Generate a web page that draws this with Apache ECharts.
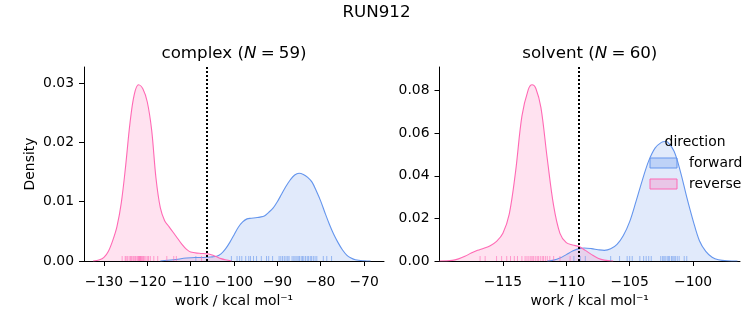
<!DOCTYPE html>
<html><head><meta charset="utf-8">
<script src="https://cdn.jsdelivr.net/npm/echarts@6/dist/echarts.min.js"></script>
<style>html,body{margin:0;padding:0;background:#fff}#c{width:753px;height:325px}</style>
</head><body><div id="c"></div>
<script>
// ---- data ----
const complexForwardKde = [[-117,0],[-114,0.0002],[-111,0.0005],[-109,0.0006],[-107,0.0006],[-105,0.0007],[-104,0.0008],[-103,0.0012],[-102,0.0020],[-101,0.0031],[-100,0.0044],[-99,0.0057],[-98,0.0066],[-97,0.0071],[-96,0.0072],[-95,0.0073],[-94,0.0074],[-93,0.0076],[-92,0.0082],[-91,0.0089],[-90,0.0100],[-89,0.0113],[-88,0.0126],[-87,0.0137],[-86,0.0145],[-85,0.0148],[-84,0.0146],[-83,0.0141],[-82,0.0133],[-81,0.0118],[-80,0.0101],[-79,0.0081],[-78,0.0062],[-77,0.0045],[-76,0.0031],[-75,0.0019],[-74,0.0010],[-73,0.0005],[-72,0.0002],[-70,0.00003],[-68.5,0]];
const complexReverseKde = [[-132.5,0],[-131,0.0002],[-130,0.0006],[-129,0.0016],[-128,0.0034],[-127,0.0058],[-126,0.0098],[-125,0.0160],[-124,0.0232],[-123,0.0281],[-122,0.0297],[-121,0.0290],[-120,0.0268],[-119,0.0221],[-118,0.0140],[-117,0.0090],[-116,0.0068],[-115,0.0058],[-114,0.0048],[-113,0.0038],[-112,0.0028],[-111,0.0020],[-110,0.0015],[-108,0.0013],[-106,0.0012],[-105,0.0010],[-104,0.0007],[-103,0.0004],[-102,0.0002],[-100.5,0]];
const solventForwardKde = [[-111.5,0],[-111,0.0004],[-110.5,0.0014],[-110,0.0030],[-109.5,0.0047],[-109,0.0058],[-108.6,0.0061],[-108,0.0058],[-107.5,0.0053],[-107,0.0050],[-106.5,0.0057],[-106,0.0078],[-105.5,0.0120],[-105,0.0185],[-104.5,0.0280],[-104,0.0380],[-103.5,0.0470],[-103,0.0530],[-102.5,0.0557],[-102.2,0.0561],[-102,0.0558],[-101.5,0.0515],[-101,0.0420],[-100.5,0.0300],[-100,0.0190],[-99.5,0.0095],[-99,0.0045],[-98.5,0.0018],[-98,0.0006],[-97.3,0.0001],[-96.5,0]];
const solventReverseKde = [[-120,0],[-119,0.0003],[-118.5,0.0010],[-118,0.0022],[-117.5,0.0037],[-117,0.0050],[-116.5,0.0060],[-116,0.0072],[-115.5,0.0092],[-115,0.0130],[-114.5,0.0220],[-114,0.0420],[-113.5,0.0680],[-113,0.0805],[-112.7,0.0828],[-112.4,0.0810],[-112,0.0720],[-111.5,0.0480],[-111,0.0260],[-110.5,0.0130],[-110,0.0086],[-109.5,0.0075],[-109,0.0068],[-108.5,0.0050],[-108,0.0030],[-107.5,0.0013],[-107,0.0004],[-106.3,0]];

const complexForwardRug = [-108.8,-100.6,-99.3,-98.7,-98.2,-97.3,-96.6,-96.2,-95.5,-94.8,-93.7,-92.5,-92.0,-91.1,-89.6,-89.2,-88.8,-88.4,-88.0,-87.6,-87.3,-86.6,-86.2,-85.9,-85.5,-85.2,-84.9,-84.5,-84.2,-83.9,-83.5,-83.1,-82.8,-82.4,-82.1,-81.7,-81.3,-80.9,-79.4,-78.6,-77.5];
const complexReverseRug = [-125.8,-125.1,-124.9,-124.6,-124.2,-123.9,-123.7,-123.5,-123.2,-122.9,-122.7,-122.4,-122.2,-122.0,-121.9,-121.8,-121.6,-121.5,-121.4,-121.2,-121.0,-120.9,-120.6,-120.3,-119.9,-119.7,-119.3,-118.5,-117.6,-115.5,-113.9,-113.3,-107.5];
const solventForwardRug = [-109.4,-108.9,-108.5,-106.5,-105.8,-105.2,-105.0,-104.8,-104.2,-103.9,-103.7,-103.5,-103.3,-102.55,-102.4,-102.3,-102.2,-102.05,-101.95,-101.85,-101.7,-101.6,-101.5,-101.4,-101.25,-101.1,-100.7,-100.5];
const solventReverseRug = [-116.8,-116.4,-115.5,-115.1,-114.7,-114.4,-114.1,-113.85,-113.5,-113.25,-113.1,-112.95,-112.8,-112.7,-112.6,-112.45,-112.3,-112.2,-112.05,-111.9,-111.8,-111.65,-111.5,-111.3,-111.0,-110.5,-109.7];

const complexLine = -106.2;
const solventLine = -109.0;

const complexXTicks = [-130,-120,-110,-100,-90,-80,-70];
const solventXTicks = [-115,-110,-105,-100];
const complexYTicks = [0,0.01,0.02,0.03];
const solventYTicks = [0,0.02,0.04,0.06,0.08];

// ---- styling ----
const FONT = 'DejaVu Sans';
const BLUE = '#6495ed', PINK = '#ff69b4';
const BLUE_FILL = 'rgba(100,149,237,0.28)', PINK_FILL = 'rgba(255,105,180,0.28)';
const minus = v => String(v).replace('-', '\u2212');

function xAxis(gi, min, max, ticks) {
  return {
    type: 'value', gridIndex: gi, min: min, max: max,
    splitLine: {show: false},
    axisLine: {onZero: false, lineStyle: {color: '#000', width: 1}},
    axisTick: {show: true, length: 5, lineStyle: {color: '#000', width: 1}, customValues: ticks},
    axisLabel: {customValues: ticks, color: '#000', fontSize: 13.9, fontFamily: FONT, margin: 14, formatter: minus},
    name: 'work / kcal mol\u207B\u00B9', nameLocation: 'middle', nameGap: 33,
    nameTextStyle: {color: '#000', fontSize: 13.9, fontFamily: FONT}
  };
}
function yAxis(gi, max, ticks, name) {
  const a = {
    type: 'value', gridIndex: gi, min: 0, max: max,
    splitLine: {show: false},
    axisLine: {show: true, onZero: false, lineStyle: {color: '#000', width: 1}},
    axisTick: {show: true, length: 5, lineStyle: {color: '#000', width: 1}, customValues: ticks},
    axisLabel: {customValues: ticks, color: '#000', fontSize: 13.9, fontFamily: FONT, margin: 10, formatter: v => v.toFixed(2)}
  };
  if (name) {
    a.name = name; a.nameLocation = 'middle'; a.nameGap = 47;
    a.nameTextStyle = {color: '#000', fontSize: 13.9, fontFamily: FONT};
  }
  return a;
}
function kde(name, gi, data, color, fill) {
  return {
    type: 'line', name: name, xAxisIndex: gi, yAxisIndex: gi, data: data,
    smooth: 0.35, showSymbol: false, symbol: 'none',
    lineStyle: {color: color, width: 1.1}, itemStyle: {color: color},
    areaStyle: {color: fill}, z: 2, silent: true
  };
}
function rug(gi, vals, color) {
  return {
    type: 'scatter', name: 'rug', xAxisIndex: gi, yAxisIndex: gi,
    data: vals.map(v => [v, 0]), symbol: 'rect', symbolSize: [1, 5], symbolOffset: [0, -2.5],
    itemStyle: {color: color, opacity: 0.6}, z: 3, silent: true
  };
}
function vline(gi, x) {
  return {
    type: 'line', name: 'vline', xAxisIndex: gi, yAxisIndex: gi, data: [],
    markLine: {silent: true, symbol: ['none', 'none'], label: {show: false},
      lineStyle: {color: '#000', type: [2, 2], width: 2},
      data: [{xAxis: x}]},
    z: 5
  };
}

const chart = echarts.init(document.getElementById('c'), null, {renderer: 'canvas'});
chart.setOption({
  animation: false,
  backgroundColor: '#fff',
  grid: [
    {left: 84, top: 67, width: 300, height: 194},
    {left: 439.5, top: 67, width: 300.5, height: 194}
  ],
  xAxis: [xAxis(0, -134.6, -65.4, complexXTicks), xAxis(1, -120, -96.3, solventXTicks)],
  yAxis: [yAxis(0, 0.0327, complexYTicks, 'Density'), yAxis(1, 0.0911, solventYTicks, null)],
  legend: {
    orient: 'vertical', left: 649.5, top: 156, itemWidth: 27, itemHeight: 10, itemGap: 7, padding: 0,
    selectedMode: false, icon: 'rect',
    data: [
      {name: 'forward', itemStyle: {color: BLUE_FILL, borderColor: BLUE, borderWidth: 1}},
      {name: 'reverse', itemStyle: {color: PINK_FILL, borderColor: PINK, borderWidth: 1}}
    ],
    textStyle: {color: '#000', fontSize: 13.9, fontFamily: FONT, padding: [0, 0, 0, 7]}
  },
  graphic: [
    {type: 'text', x: 376.5, y: 13, style: {text: 'RUN912', fill: '#000', fontSize: 16.7, fontFamily: FONT, align: 'center', verticalAlign: 'middle'}},
    {type: 'text', x: 234, y: 54, style: {text: 'complex ({i|N}\u2005=\u200559)', fill: '#000', fontSize: 16.7, fontFamily: FONT, align: 'center', verticalAlign: 'middle',
      rich: {i: {fontStyle: 'italic', fontSize: 16.7, fontFamily: FONT, fill: '#000'}}}},
    {type: 'text', x: 589.8, y: 54, style: {text: 'solvent ({i|N}\u2005=\u200560)', fill: '#000', fontSize: 16.7, fontFamily: FONT, align: 'center', verticalAlign: 'middle',
      rich: {i: {fontStyle: 'italic', fontSize: 16.7, fontFamily: FONT, fill: '#000'}}}},
    {type: 'text', x: 695, y: 142, z: 10, style: {text: 'direction', fill: '#000', fontSize: 13.9, fontFamily: FONT, align: 'center', verticalAlign: 'middle'}}
  ],
  series: [
    kde('forward', 0, complexForwardKde, BLUE, BLUE_FILL),
    kde('reverse', 0, complexReverseKde, PINK, PINK_FILL),
    rug(0, complexForwardRug, BLUE),
    rug(0, complexReverseRug, PINK),
    vline(0, complexLine),
    kde('forward', 1, solventForwardKde, BLUE, BLUE_FILL),
    kde('reverse', 1, solventReverseKde, PINK, PINK_FILL),
    rug(1, solventForwardRug, BLUE),
    rug(1, solventReverseRug, PINK),
    vline(1, solventLine)
  ]
});
</script>
</body></html>
